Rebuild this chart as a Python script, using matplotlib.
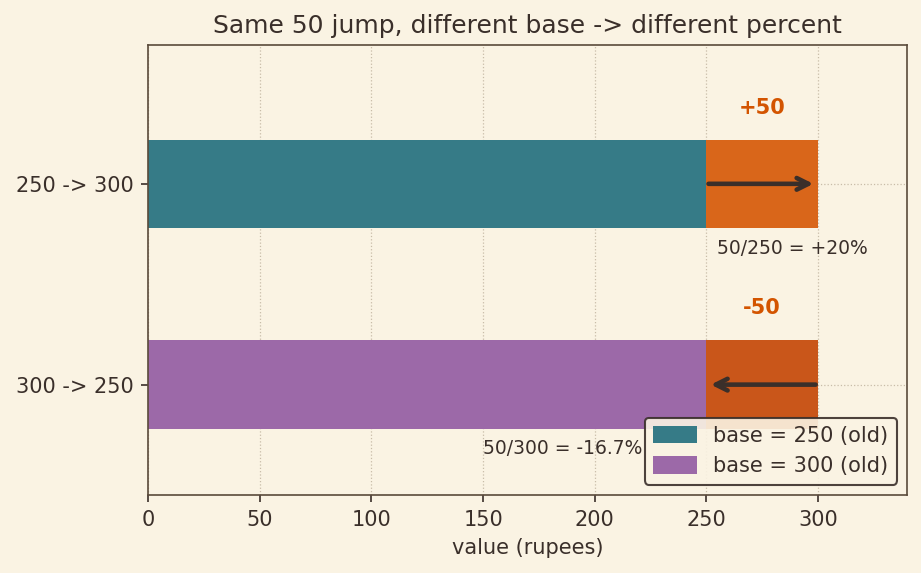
import matplotlib.pyplot as plt

# data
rows = ['300 -> 250', '250 -> 300']
old_vals = [300, 250]
new_vals = [250, 300]
base_cols = ['#9c69a8', '#367b87']
jump_cols = ['#c9561a', '#d9661a']
legend_names = ['base = 300 (old)', 'base = 250 (old)']
jump_txt = ['-50', '+50']
pct_txt = ['50/300 = -16.7%', '50/250 = +20%']
pct_x = [150, 255]

bg = '#faf3e3'
ink = '#3a2f2a'

plt.rcParams['font.family'] = 'DejaVu Sans'
fig, ax = plt.subplots(figsize=(6.14, 3.82), dpi=150)
fig.patch.set_facecolor(bg)
ax.set_facecolor(bg)

ypos = [0, 1]
hb = 0.44
handles = {}
for i in range(2):
    lo = min(old_vals[i], new_vals[i])
    hi = max(old_vals[i], new_vals[i])
    b = ax.barh(ypos[i], lo, height=hb, color=base_cols[i], label=legend_names[i], zorder=2)
    handles[i] = b
    ax.barh(ypos[i], hi - lo, left=lo, height=hb, color=jump_cols[i], zorder=2)
    # arrow old -> new, a little inside the orange segment
    d = 1 if new_vals[i] > old_vals[i] else -1
    ax.annotate('', xy=(new_vals[i] - 2 * d, ypos[i]), xytext=(old_vals[i] + 1 * d, ypos[i]),
                arrowprops=dict(arrowstyle='->', lw=2.2, color=ink, mutation_scale=14,
                                shrinkA=0, shrinkB=0), zorder=3)
    ax.text((lo + hi) / 2, ypos[i] + 0.38, jump_txt[i], ha='center', va='center',
            color='#d35400', fontweight='bold', fontsize=10)
    ax.text(pct_x[i], ypos[i] - 0.32, pct_txt[i], ha='left', va='center', color=ink, fontsize=9)

ax.set_xlim(0, 340)
ax.set_ylim(-0.55, 1.69)
ax.set_yticks(ypos)
ax.set_yticklabels(rows)
ax.set_xlabel('value (rupees)', color=ink, fontsize=10)
ax.set_title('Same 50 jump, different base -> different percent', color=ink, fontsize=12)
ax.tick_params(colors=ink, labelsize=10)
for s in ax.spines.values():
    s.set_color('#5a4a3a')
ax.grid(True, linestyle=':', color='#c8bca8', lw=0.6, zorder=0)
ax.set_axisbelow(True)

leg = ax.legend([handles[1], handles[0]], [legend_names[1], legend_names[0]],
                loc='lower right', fontsize=10, facecolor=bg, edgecolor=ink, framealpha=0.9,
                handleheight=0.9, handlelength=2.1)
for t in leg.get_texts():
    t.set_color(ink)

plt.subplots_adjust(left=0.161, right=0.985, top=0.921, bottom=0.136)
plt.savefig('out.png', dpi=150, facecolor=bg)
